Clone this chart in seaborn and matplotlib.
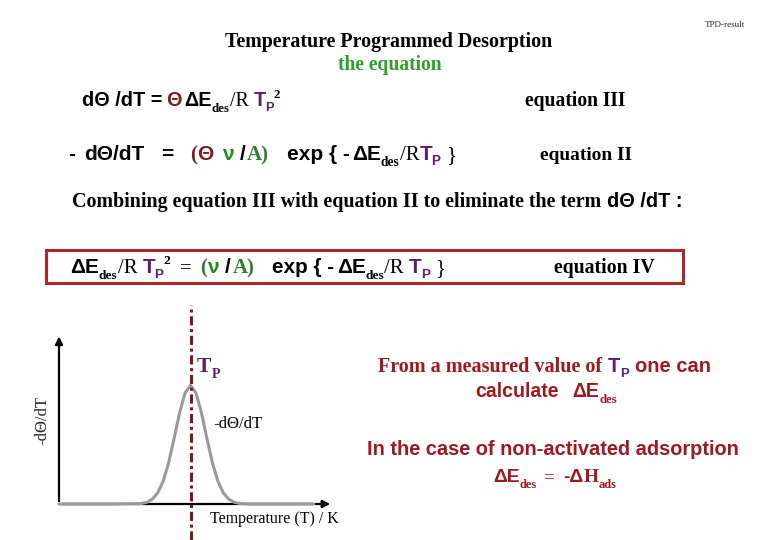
import seaborn as sns
from matplotlib import pyplot as plt
from matplotlib.patches import Rectangle

# ------------------------------------------------- #
# values (TPD peak sketch)
temps = [0, 10, 20, 30, 32, 34, 36, 38, 40, 42, 44, 46, 48,
         50, 52, 54, 56, 58, 60, 62, 64, 66, 70, 80, 93]
rate = [0, 0, 0, 0.003, 0.010, 0.028, 0.066, 0.136, 0.246, 0.392, 0.545, 0.665, 0.71,
        0.665, 0.545, 0.392, 0.246, 0.136, 0.066, 0.028, 0.010, 0.003, 0, 0, 0]
t_peak = 48
# ------------------------------------------------- #

BLACK = "black"
DRED = "#7d1c1c"
RED = "#a01820"
PURPLE = "#5b1f6b"
GREEN = "#1f8a1f"
DGREEN = "#2e7d32"
LGREEN = "#2ca02c"

sns.set_style("white")

fig = plt.figure(figsize=(7.8, 5.4), dpi=100)
renderer = fig.canvas.get_renderer()

# overlay in pixel coordinates for the slide text
ov = fig.add_axes([0, 0, 1, 1])
ov.set_xlim(0, 780)
ov.set_ylim(540, 0)
ov.axis("off")
ov.set_facecolor("none")

# family, weight, size factor, baseline shift (in em, + is down), pull-in (em)
STYLES = {
    "sans": ("Liberation Sans", "bold", 1.0, 0.0, 0.0),
    "serif": ("Liberation Serif", "bold", 1.0, 0.0, 0.0),
    "rom": ("Liberation Serif", "normal", 1.0, 0.0, 0.0),
    "sub": ("Liberation Serif", "bold", 0.65, 0.30, 0.0),
    "subsans": ("Liberation Sans", "bold", 0.65, 0.26, 0.03),
    "sup": ("Liberation Serif", "bold", 0.65, -0.42, 0.0),
}


def run(x0, x1, base, segs, size=12):
    # draw a row of coloured pieces, then rescale so it spans x0..x1
    for attempt in range(2):
        arts = []
        x = x0
        px = size * 100 / 72
        for s, kind, col in segs:
            if kind == "gap":
                x += s * px
                continue
            fam, wt, k, dy, pull = STYLES[kind]
            x -= pull * px
            t = ov.text(x, base + dy * px, s, family=fam, weight=wt,
                        size=size * k, color=col, va="baseline", ha="left")
            arts.append(t)
            x += t.get_window_extent(renderer).width
        if x1 is None or attempt == 1:
            break
        for t in arts:
            t.remove()
        size *= (x1 - x0) / (x - x0)
    return arts


ov.text(745, 27, "TPD-result", family="Liberation Serif", size=6.5,
        ha="right", va="baseline")
run(225, 555, 47, [("Temperature Programmed Desorption", "serif", BLACK)], 14)
run(338, 442, 70, [("the equation", "serif", LGREEN)], 14)

# equation III
run(82, 280, 106, [
    ("dΘ /dT =", "sans", BLACK), (0.2, "gap", None),
    ("Θ", "sans", DRED), (0.12, "gap", None),
    ("ΔE", "sans", BLACK), ("des", "sub", BLACK), ("/R", "rom", BLACK),
    (0.25, "gap", None), ("T", "sans", PURPLE), ("P", "subsans", PURPLE),
    ("2", "sup", BLACK)], 13)
run(525, 626, 106, [("equation III", "serif", BLACK)], 13)

# equation II
run(68, 455, 160, [
    ("-", "sans", BLACK), (0.45, "gap", None), ("dΘ/dT", "sans", BLACK),
    (0.8, "gap", None), ("=", "sans", BLACK), (0.8, "gap", None),
    ("(", "serif", DRED), ("Θ", "sans", DRED), (0.4, "gap", None),
    ("ν", "sans", GREEN), (0.3, "gap", None), ("/", "sans", BLACK),
    (0.08, "gap", None), ("A)", "serif", DGREEN), (0.85, "gap", None),
    ("exp { -", "sans", BLACK), (0.12, "gap", None),
    ("ΔE", "sans", BLACK), ("des", "sub", BLACK), ("/R", "rom", BLACK),
    ("T", "sans", PURPLE), ("P", "subsans", PURPLE), (0.25, "gap", None),
    ("}", "rom", BLACK)], 13)
run(540, 632, 160, [("equation II", "serif", BLACK)], 13)

run(72, 682, 207, [
    ("Combining equation III with equation II to eliminate the term", "serif", BLACK),
    (0.3, "gap", None), ("dΘ /dT :", "sans", BLACK)], 13)

# boxed equation IV
ov.add_patch(Rectangle((46, 249.5), 637, 33.5, fill=False, edgecolor="#b0262c", lw=2.2))
run(70, 445, 273, [
    ("ΔE", "sans", BLACK), ("des", "sub", BLACK), ("/R", "rom", BLACK),
    (0.25, "gap", None), ("T", "sans", PURPLE), ("P", "subsans", PURPLE),
    ("2", "sup", BLACK), (0.45, "gap", None), ("=", "rom", BLACK),
    (0.45, "gap", None), ("(", "serif", DGREEN), ("ν", "sans", GREEN),
    (0.3, "gap", None), ("/", "sans", BLACK), (0.08, "gap", None),
    ("A)", "serif", DGREEN), (0.85, "gap", None), ("exp { -", "sans", BLACK),
    (0.12, "gap", None), ("ΔE", "sans", BLACK), ("des", "sub", BLACK),
    ("/R", "rom", BLACK), (0.25, "gap", None), ("T", "sans", PURPLE),
    ("P", "subsans", PURPLE), (0.25, "gap", None), ("}", "rom", BLACK)], 13)
run(554, 654, 273, [("equation IV", "serif", BLACK)], 13)

# red explanation block
run(378, 710, 372, [
    ("From a measured value of", "serif", RED), (0.3, "gap", None),
    ("T", "sans", PURPLE), ("P", "subsans", PURPLE), (0.3, "gap", None),
    ("one can", "sans", RED)], 13)
run(475, 617, 397, [
    ("calculate", "sans", RED), (0.7, "gap", None),
    ("ΔE", "sans", RED), ("des", "sub", RED)], 13)
run(367, 738, 455, [("In the case of non-activated adsorption", "sans", RED)], 13)
run(493, 617, 482, [
    ("ΔE", "sans", RED), ("des", "sub", RED), (0.35, "gap", None),
    ("=", "rom", RED), (0.45, "gap", None), ("-Δ", "sans", RED),
    ("H", "serif", RED), ("ads", "sub", RED)], 13)

# TPD sketch
ax = fig.add_axes([59 / 780, 36 / 540, 274 / 780, 167 / 540])
ax.set_facecolor("none")
sns.lineplot(x=temps, y=rate, ax=ax, color="#9a9a9a", lw=2.2, zorder=4, clip_on=False)
ax.set_xlim(0, 100)
ax.set_ylim(0, 1)
ax.set_xticks([])
ax.set_yticks([])
sns.despine(ax=ax, left=True, bottom=True)
ax.annotate("", xy=(1, 0), xytext=(0, 0), xycoords="axes fraction",
            arrowprops=dict(arrowstyle="-|>", color="black", lw=1.6, mutation_scale=11))
ax.annotate("", xy=(0, 1.02), xytext=(0, 0), xycoords="axes fraction",
            arrowprops=dict(arrowstyle="-|>", color="black", lw=1.6, mutation_scale=11))
ax.axvline(t_peak, ymin=-36 / 167, ymax=199 / 167, color="#7a1a1a", lw=2.2,
           ls=(0, (3, 1.2, 1, 1.2)), clip_on=False, zorder=5)
ax.set_ylabel("-dΘ/dT", family="Liberation Serif", size=12, labelpad=6)

run(197, 220, 372, [("T", "serif", PURPLE), ("P", "sub", PURPLE)], 14)
run(213, 262, 428, [("-dΘ/dT", "rom", BLACK)], 11)
run(210, 338, 523, [("Temperature (T) / K", "rom", BLACK)], 11)

fig.savefig("out.png", dpi=100)
